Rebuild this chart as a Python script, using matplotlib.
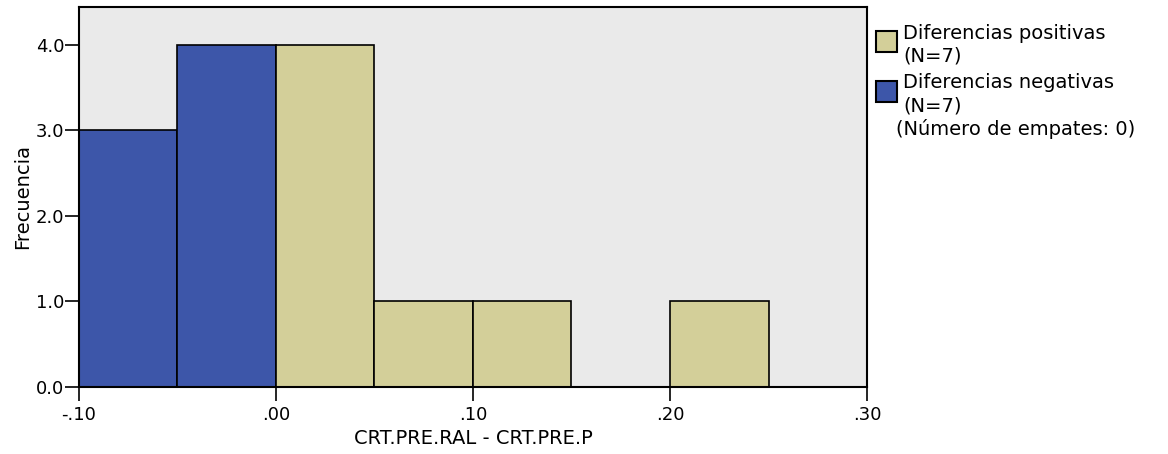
import matplotlib.pyplot as plt
import matplotlib.ticker as mticker
from matplotlib.patches import Rectangle

plt.rcParams["font.family"] = ["DejaVu Sans"]

# histogram bins (left edges), width .05
bin_left = [-0.10, -0.05, 0.00, 0.05, 0.10, 0.15, 0.20]
neg_counts = [3, 4, 0, 0, 0, 0, 0]
pos_counts = [0, 0, 4, 1, 1, 0, 1]
bin_width = 0.05

x_ticks = [-0.10, 0.00, 0.10, 0.20, 0.30]
y_ticks = [0.0, 1.0, 2.0, 3.0, 4.0]

pos_color = "#D3CF99"
neg_color = "#3D56A9"
bg_color = "#EAEAEA"

fig = plt.figure(figsize=(11.68, 4.54), dpi=100)
ax = fig.add_axes([0.0676, 0.1476, 0.6747, 0.837])
ax.set_facecolor(bg_color)

for left, n, p in zip(bin_left, neg_counts, pos_counts):
    if n > 0:
        ax.bar(left, n, width=bin_width, align="edge", color=neg_color,
               edgecolor="black", linewidth=1.2)
    if p > 0:
        ax.bar(left, p, width=bin_width, align="edge", color=pos_color,
               edgecolor="black", linewidth=1.2)

ax.set_xlim(-0.10, 0.30)
ax.set_ylim(0, 4.44)
ax.set_xticks(x_ticks)
ax.set_yticks(y_ticks)
ax.xaxis.set_major_formatter(mticker.FuncFormatter(
    lambda v, _: ("-" if v < -1e-9 else "") + f"{abs(v):.2f}".lstrip("0")))
ax.yaxis.set_major_formatter(mticker.FormatStrFormatter("%.1f"))
ax.tick_params(axis="both", direction="out", length=10, width=1.2,
               labelsize=13, color="black")
ax.tick_params(axis="x", pad=4)
ax.tick_params(axis="y", pad=0.5)
for s in ax.spines.values():
    s.set_linewidth(1.5)
    s.set_color("black")

ax.set_xlabel("CRT.PRE.RAL - CRT.PRE.P", fontsize=14, labelpad=3)
ax.set_ylabel("Frecuencia", fontsize=14, labelpad=3)

# legend drawn by hand, SPSS style
W, H = 1168, 454
def px(x, y):
    return x / W, 1 - y / H

legend_items = [
    ("Diferencias positivas", "(N=7)", pos_color, 31, 39),
    ("Diferencias negativas", "(N=7)", neg_color, 81, 88),
]
for line1, line2, col, ptop, base in legend_items:
    x0, y0 = px(876, ptop + 21)
    fig.patches.append(Rectangle((x0, y0), 21 / W, 21 / H, transform=fig.transFigure,
                                 facecolor=col, edgecolor="black", linewidth=1.5))
    tx, ty = px(903, base)
    fig.text(tx, ty, line1, fontsize=14, va="baseline")
    tx, ty = px(903, base + 23)
    fig.text(tx, ty, line2, fontsize=14, va="baseline")

tx, ty = px(896, 135)
fig.text(tx, ty, "(Número de empates: 0)", fontsize=14, va="baseline")

fig.savefig("out.png", dpi=100)
